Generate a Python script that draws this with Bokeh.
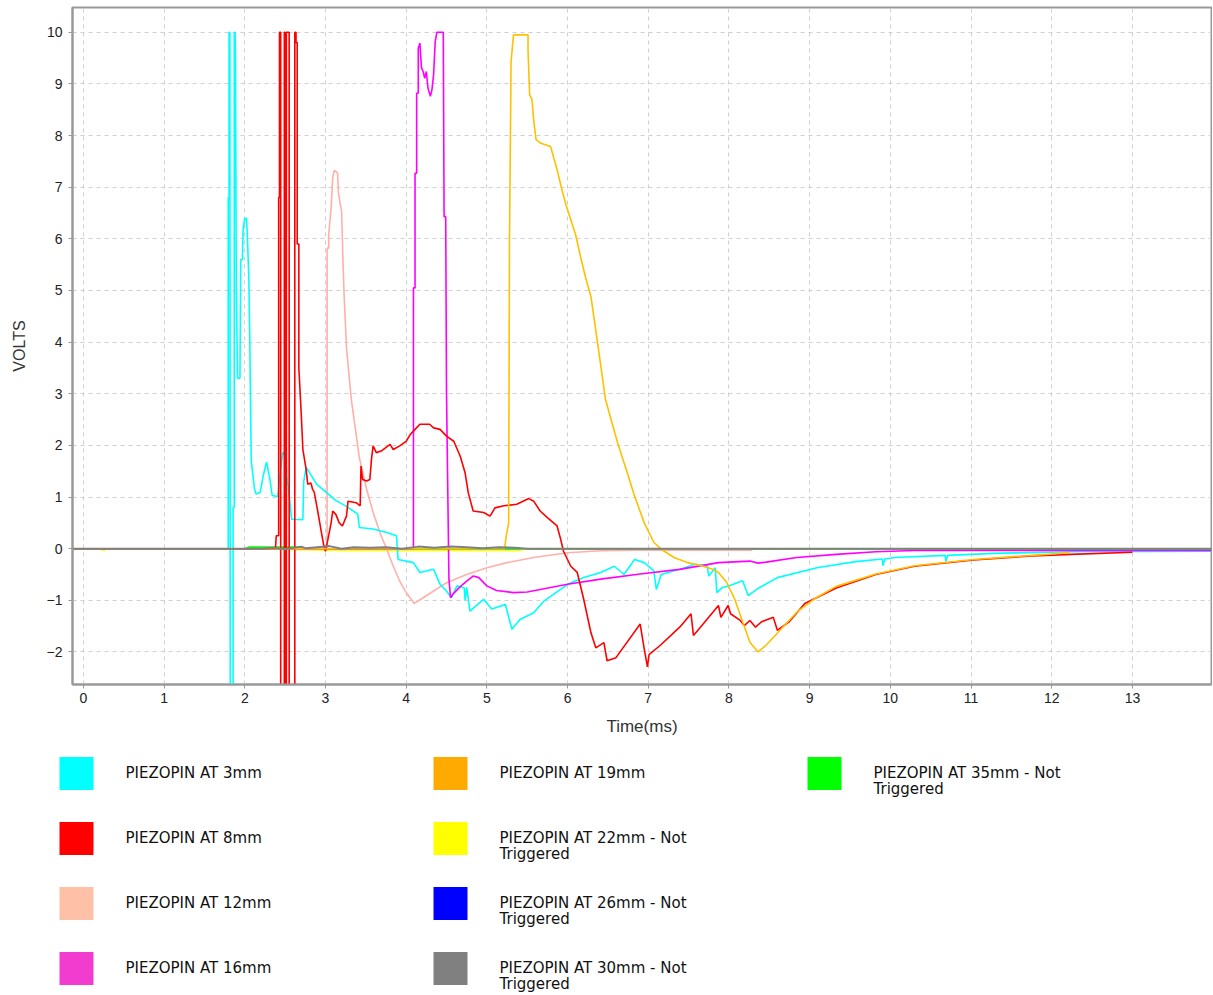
from bokeh.plotting import figure
from bokeh.layouts import column, row
from bokeh.models import Range1d, FixedTicker, Spacer
from bokeh.embed import file_html
from bokeh.resources import INLINE
from bokeh.core.properties import value

# ---------------- data (time in ms, volts) ----------------
t_3mm = [-0.14, 1.795, 1.795, 1.805, 1.805, 1.815, 1.82, 1.855, 1.855, 1.87, 1.87, 1.88, 1.885, 1.895,
         1.91, 1.94, 1.95, 1.97, 1.98, 2.0, 2.02, 2.03, 2.05, 2.06, 2.08, 2.12, 2.14, 2.19, 2.23, 2.27,
         2.31, 2.34, 2.41, 2.43, 2.47, 2.51, 2.52, 2.56, 2.58, 2.72, 2.73, 2.76, 2.89, 3.01, 3.13, 3.26,
         3.40, 3.42, 3.59, 3.75, 3.88, 3.90, 4.09, 4.17, 4.34, 4.42, 4.50, 4.56, 4.63, 4.72, 4.73, 4.75,
         4.79, 4.96, 5.06, 5.23, 5.31, 5.41, 5.58, 5.71, 6.0, 6.2, 6.41, 6.58, 6.70, 6.83, 6.95, 7.07,
         7.10, 7.16, 7.45, 7.58, 7.73, 7.75, 7.83, 7.85, 7.92, 8.02, 8.17, 8.24, 8.36, 8.60, 9.09, 9.57,
         9.90, 9.91, 9.93, 10.06, 10.68, 10.69, 10.71, 11.27, 12.24, 13.98]
v_3mm = [0.0, 0.0, 6.8, 6.8, 10.0, 10.0, -3.0, -3.0, 0.8, 0.8, 10.0, 10.0, 9.27, 5.1,
         3.3, 3.3, 5.6, 5.6, 6.2, 6.4, 6.4, 6.15, 5.25, 4.3, 1.71, 1.16, 1.06, 1.09, 1.42, 1.68,
         1.35, 1.03, 1.01, 1.35, 1.87, 1.77, 1.42, 0.9, 0.57, 0.56, 1.29, 1.58, 1.25, 1.09, 0.93, 0.82,
         0.67, 0.41, 0.38, 0.32, 0.25, -0.21, -0.27, -0.46, -0.40, -0.69, -0.82, -0.95, -0.72, -0.76, -1.0, -0.75,
         -1.21, -0.98, -1.17, -1.08, -1.56, -1.37, -1.24, -1.01, -0.69, -0.56, -0.46, -0.34, -0.5, -0.21, -0.27, -0.43,
         -0.79, -0.5, -0.37, -0.30, -0.33, -0.53, -0.37, -0.85, -0.75, -0.71, -0.62, -0.91, -0.77, -0.56, -0.37, -0.25,
         -0.2, -0.33, -0.2, -0.17, -0.13, -0.25, -0.13, -0.09, -0.06, -0.05]

t_8mm = [-0.14, 2.38, 2.39, 2.42, 2.42, 2.43, 2.43, 2.445, 2.445, 2.49, 2.49, 2.50, 2.50, 2.515, 2.515,
         2.55, 2.55, 2.62, 2.62, 2.635, 2.635, 2.65, 2.65, 2.67, 2.67, 2.70, 2.72, 2.76, 2.78, 2.82,
         2.84, 2.86, 2.90, 2.95, 2.98, 3.0, 3.03, 3.07, 3.09, 3.13, 3.17, 3.21, 3.26, 3.28, 3.38,
         3.43, 3.44, 3.46, 3.51, 3.55, 3.57, 3.59, 3.63, 3.69, 3.80, 3.84, 3.92, 4.0, 4.05, 4.11,
         4.17, 4.29, 4.34, 4.42, 4.5, 4.59, 4.67, 4.73, 4.77, 4.83, 4.96, 5.04, 5.10, 5.21, 5.37,
         5.52, 5.58, 5.66, 5.75, 5.87, 5.91, 5.95, 6.04, 6.12, 6.20, 6.29, 6.35, 6.45, 6.49, 6.60,
         6.90, 6.95, 6.99, 7.01, 7.15, 7.39, 7.53, 7.56, 7.68, 7.87, 7.90, 7.99, 8.02, 8.14, 8.19,
         8.26, 8.33, 8.40, 8.55, 8.60, 8.75, 8.94, 9.33, 9.82, 10.30, 11.03, 11.76, 12.24, 13.0]
v_8mm = [0.0, 0.0, 0.25, 0.25, 6.8, 6.8, 10.0, 10.0, -3.0, -3.0, 10.0, 10.0, -3.0, -3.0, 10.0,
         10.0, -3.0, -3.0, 10.0, 10.0, 9.8, 9.8, 5.9, 5.9, 3.5, 2.6, 1.92, 1.54, 1.25, 1.27,
         1.15, 1.1, 0.76, 0.31, 0.05, -0.05, 0.18, 0.5, 0.73, 0.66, 0.5, 0.44, 0.63, 0.92, 0.89,
         0.83, 1.6, 1.34, 1.31, 1.34, 1.73, 1.99, 1.86, 1.89, 2.02, 1.92, 1.99, 2.08, 2.21, 2.31,
         2.41, 2.41, 2.34, 2.31, 2.18, 2.08, 1.79, 1.47, 1.08, 0.73, 0.70, 0.63, 0.79, 0.83, 0.86,
         0.97, 0.92, 0.73, 0.6, 0.44, 0.21, -0.05, -0.34, -0.46, -0.98, -1.63, -1.92, -1.82, -2.17, -2.11,
         -1.46, -1.94, -2.29, -2.05, -1.87, -1.52, -1.26, -1.68, -1.46, -1.1, -1.33, -1.1, -1.26, -1.39, -1.49,
         -1.39, -1.52, -1.42, -1.33, -1.58, -1.41, -1.06, -0.76, -0.50, -0.34, -0.22, -0.14, -0.11, -0.07]

t_12mm = [-0.14, 3.02, 3.02, 3.04, 3.04, 3.07, 3.09, 3.11, 3.12, 3.15, 3.16, 3.18, 3.20, 3.22, 3.23,
          3.26, 3.32, 3.42, 3.51, 3.59, 3.69, 3.76, 3.84, 3.92, 4.0, 4.10, 4.21, 4.34, 4.50, 4.75,
          5.0, 5.25, 5.58, 6.0, 6.41, 6.83, 8.29]
v_12mm = [0.0, 0.0, 5.82, 5.82, 6.08, 6.6, 7.2, 7.32, 7.32, 7.27, 6.9, 6.7, 6.53, 5.4, 4.95,
          3.9, 2.89, 1.76, 1.15, 0.70, 0.25, -0.01, -0.34, -0.63, -0.85, -1.06, -0.95, -0.82, -0.66, -0.5,
          -0.37, -0.27, -0.17, -0.08, -0.04, -0.03, -0.03]

t_16mm = [-0.14, 4.09, 4.09, 4.11, 4.11, 4.13, 4.13, 4.15, 4.15, 4.17, 4.19, 4.21, 4.23, 4.25, 4.27,
          4.30, 4.32, 4.34, 4.36, 4.38, 4.46, 4.47, 4.49, 4.50, 4.53, 4.55, 4.58, 4.66, 4.75, 4.83,
          4.90, 5.0, 5.12, 5.33, 5.50, 5.79, 6.0, 6.41, 6.90, 7.39, 7.87, 8.26, 8.36, 8.46, 8.84,
          9.33, 9.82, 10.3, 13.98]
v_16mm = [0.0, 0.0, 5.05, 5.05, 7.27, 7.27, 8.82, 8.82, 9.69, 9.79, 9.31, 9.24, 9.11, 9.24, 8.92,
          8.76, 8.89, 9.18, 9.82, 10.0, 10.0, 6.43, 6.43, 3.0, -0.59, -0.95, -0.88, -0.75, -0.63, -0.53,
          -0.56, -0.72, -0.81, -0.85, -0.84, -0.75, -0.69, -0.59, -0.49, -0.40, -0.27, -0.24, -0.28, -0.26, -0.17,
          -0.11, -0.06, -0.035, -0.035]

t_19mm = [-0.14, 5.22, 5.24, 5.27, 5.28, 5.30, 5.33, 5.51, 5.51, 5.53, 5.56, 5.58, 5.61, 5.67, 5.79,
          5.83, 5.87, 5.93, 5.98, 6.04, 6.10, 6.16, 6.22, 6.29, 6.38, 6.47, 6.62, 6.74, 6.83, 6.95,
          7.07, 7.16, 7.32, 7.49, 7.66, 7.80, 7.87, 7.97, 8.07, 8.17, 8.26, 8.36, 8.46, 8.65, 8.84,
          9.09, 9.33, 9.82, 10.3, 11.03, 11.76, 12.22]
v_19mm = [0.0, 0.0, 0.25, 0.5, 5.88, 9.43, 9.95, 9.95, 9.66, 8.79, 8.69, 8.30, 7.92, 7.85, 7.79,
          7.56, 7.34, 6.95, 6.66, 6.37, 6.08, 5.66, 5.27, 4.88, 3.9, 2.89, 2.05, 1.47, 1.02, 0.5,
          0.12, -0.01, -0.17, -0.27, -0.33, -0.40, -0.46, -0.65, -0.97, -1.42, -1.81, -2.0, -1.87, -1.55, -1.23,
          -0.94, -0.73, -0.49, -0.33, -0.21, -0.13, -0.08]

t_22mm = [-0.14, 0.2, 0.25, 0.3, 2.0, 3.3, 4.6, 5.4, 5.5, 8.3, 13.98]
v_22mm = [0.0, 0.0, -0.03, 0.0, 0.0, -0.035, -0.035, -0.035, 0.0, 0.0, 0.0]

t_26mm = [-0.14, 13.98]
v_26mm = [0.0, 0.0]

t_30mm = [-0.14, 2.2, 2.35, 2.5, 2.7, 2.75, 2.9, 3.05, 3.2, 3.35, 3.55, 3.75, 3.95, 4.15, 4.35,
          4.55, 4.75, 4.95, 5.15, 5.35, 5.5, 13.98]
v_30mm = [0.0, 0.0, 0.02, -0.01, 0.04, 0.01, 0.03, 0.05, 0.0, 0.03, 0.02, 0.03, 0.0, 0.04, 0.02,
          0.04, 0.03, 0.01, 0.03, 0.02, 0.0, 0.0]

t_35mm = [-0.14, 2.0, 2.05, 2.7, 2.75, 13.98]
v_35mm = [0.0, 0.0, 0.03, 0.03, 0.0, 0.0]

legend_labels = ["PIEZOPIN AT 3mm", "PIEZOPIN AT 8mm", "PIEZOPIN AT 12mm", "PIEZOPIN AT 16mm",
                 "PIEZOPIN AT 19mm", "PIEZOPIN AT 22mm - Not\nTriggered", "PIEZOPIN AT 26mm - Not\nTriggered",
                 "PIEZOPIN AT 30mm - Not\nTriggered", "PIEZOPIN AT 35mm - Not\nTriggered"]
legend_colors = ["#00ffff", "#ff0000", "#ffc0a8", "#f23ccf", "#ffaa00", "#ffff00", "#0000ff", "#808080", "#00ff00"]

x_ticks = list(range(0, 14))
y_ticks = list(range(-2, 11))

# ---------------- main plot ----------------
MAIN_H = 738
p = figure(width=1212, height=MAIN_H, x_range=Range1d(-0.135, 13.98), y_range=Range1d(-2.63, 10.48),
           output_backend="svg", toolbar_location=None,
           min_border_left=72, min_border_right=1, min_border_top=7, min_border_bottom=MAIN_H - 685)
p.background_fill_color = "white"
p.outline_line_color = "#999999"
p.outline_line_width = 2

p.xaxis.ticker = FixedTicker(ticks=x_ticks)
p.yaxis.ticker = FixedTicker(ticks=y_ticks)
for ax in (p.xaxis, p.yaxis):
    ax.axis_line_color = "#999999"
    ax.axis_line_width = 2
    ax.major_tick_line_color = "#999999"
    ax.major_tick_in = 0
    ax.major_tick_out = 4
    ax.minor_tick_line_color = None
    ax.major_label_text_font = "Liberation Sans"
    ax.major_label_text_font_size = "14px"
    ax.major_label_text_color = "#222222"
    ax.axis_label_text_font = "Liberation Sans"
    ax.axis_label_text_font_style = "normal"
    ax.axis_label_text_color = "#333333"
p.xaxis.axis_label = "Time(ms)"
p.yaxis.axis_label = "VOLTS"
p.xaxis.axis_label_text_font_size = "17px"
p.yaxis.axis_label_text_font_size = "16px"
p.xaxis.axis_label_standoff = 11
p.yaxis.axis_label_standoff = 16
p.xaxis.major_label_standoff = 4
p.yaxis.major_label_standoff = 6

p.grid.grid_line_color = "#cfcfcf"
p.grid.grid_line_dash = "4 4"
p.grid.grid_line_width = 1

lw = 1.6
p.line(t_26mm, v_26mm, line_color="#0000ff", line_width=lw)
p.line(t_22mm, v_22mm, line_color="#ffff00", line_width=lw)
p.line(t_35mm, v_35mm, line_color="#00ff00", line_width=lw)
p.line(t_12mm, v_12mm, line_color="#ffb0a8", line_width=lw)
p.line(t_3mm, v_3mm, line_color="#00ffff", line_width=lw)
p.line(t_16mm, v_16mm, line_color="#ff00ff", line_width=lw)
p.line(t_8mm, v_8mm, line_color="#ff0000", line_width=lw)
p.line(t_19mm, v_19mm, line_color="#ffc000", line_width=lw)
p.line(t_30mm, v_30mm, line_color="#808080", line_width=2)

# ---------------- legend panel (coordinates = page pixels) ----------------
LEG_H = 255
leg = figure(width=1212, height=LEG_H, x_range=Range1d(0, 1212), y_range=Range1d(MAIN_H + LEG_H, MAIN_H),
             output_backend="svg", toolbar_location=None, x_axis_location=None, y_axis_location=None,
             min_border=0)
leg.outline_line_color = None
leg.grid.visible = False

col_sw = [76, 450, 824]
col_tx = [125, 499, 873]
row_y = [773, 838, 903, 968]
sx, sy, tx, ty = [], [], [], []
for i in range(len(legend_labels)):
    c, r = divmod(i, 4)
    sx.append(col_sw[c]); sy.append(row_y[r])
    tx.append(col_tx[c]); ty.append(row_y[r] - 10)
leg.rect(x=sx, y=sy, width=34, height=33, fill_color=legend_colors, line_color=None)
leg.text(x=tx, y=ty, text=legend_labels, text_font=value("DejaVu Sans"), text_font_size="15px",
         text_color="#111111", text_baseline="top", text_align="left", text_line_height=0.92)

layout = column(p, row(Spacer(width=0, height=LEG_H), leg), spacing=0)
open("out.html", "w").write(file_html(layout, INLINE))
